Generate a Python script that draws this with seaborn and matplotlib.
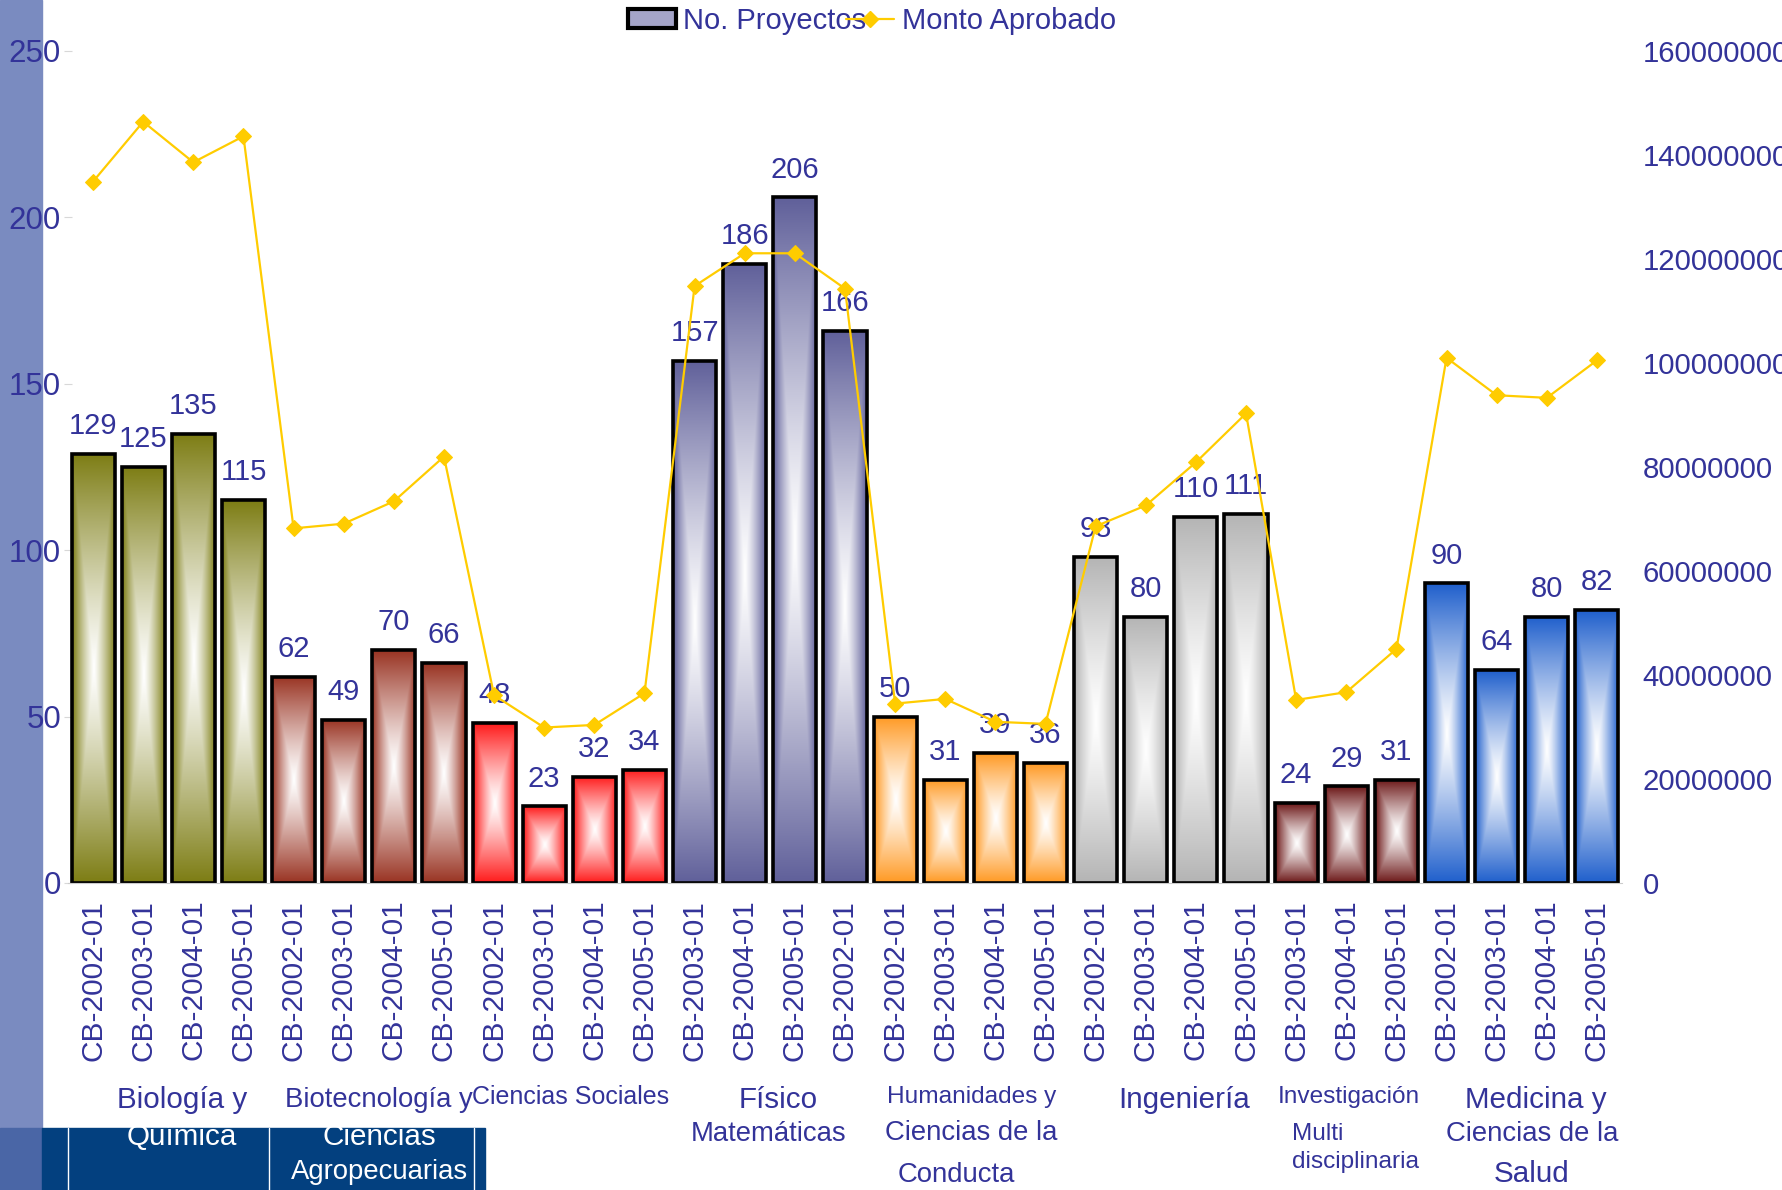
import numpy as np
import seaborn as sns
import matplotlib.pyplot as plt
from matplotlib.colors import to_rgb
from matplotlib.patches import Rectangle, Patch
from matplotlib.lines import Line2D
import matplotlib.transforms as mtransforms

# data
convocatorias = ['CB-2002-01', 'CB-2003-01', 'CB-2004-01', 'CB-2005-01',
                 'CB-2002-01', 'CB-2003-01', 'CB-2004-01', 'CB-2005-01',
                 'CB-2002-01', 'CB-2003-01', 'CB-2004-01', 'CB-2005-01',
                 'CB-2003-01', 'CB-2004-01', 'CB-2005-01', 'CB-2002-01',
                 'CB-2002-01', 'CB-2003-01', 'CB-2004-01', 'CB-2005-01',
                 'CB-2002-01', 'CB-2003-01', 'CB-2004-01', 'CB-2005-01',
                 'CB-2003-01', 'CB-2004-01', 'CB-2005-01',
                 'CB-2002-01', 'CB-2003-01', 'CB-2004-01', 'CB-2005-01']
proyectos = [129, 125, 135, 115,
             62, 49, 70, 66,
             48, 23, 32, 34,
             157, 186, 206, 166,
             50, 31, 39, 36,
             98, 80, 110, 111,
             24, 29, 31,
             90, 64, 80, 82]
monto = [134.9e6, 146.4e6, 138.6e6, 143.6e6,
         68.2e6, 69.1e6, 73.4e6, 82.0e6,
         36.1e6, 29.9e6, 30.4e6, 36.5e6,
         114.8e6, 121.1e6, 121.1e6, 114.3e6,
         34.5e6, 35.4e6, 31.0e6, 30.6e6,
         68.6e6, 72.6e6, 80.9e6, 90.3e6,
         35.2e6, 36.7e6, 45.0e6,
         101.0e6, 93.8e6, 93.3e6, 100.5e6]
group_sizes = [4, 4, 4, 4, 4, 4, 3, 4]
group_colors = ['#7d7d14', '#993322', '#ff1a1a', '#60609a',
                '#ff9922', '#b4b4b4', '#6b1616', '#1f5fcc']

idx = np.arange(len(proyectos))
bar_colors = [c for c, n in zip(group_colors, group_sizes) for _ in range(n)]

TXT = '#333399'
sns.set_style('white')
plt.rcParams['font.family'] = ['Liberation Sans', 'DejaVu Sans']

W, H = 1782, 1190
fig = plt.figure(figsize=(W / 100, H / 100), dpi=100)
ax = fig.add_axes([68 / W, 1 - 883 / H, (1622 - 68) / W, (883 - 51) / H])
ax.patch.set_alpha(0)

# slide decoration
fig.add_artist(Rectangle((0, 0), 42 / W, 1, transform=fig.transFigure,
                         color='#7a8bc0', zorder=-2))
fig.add_artist(Rectangle((0, 0), 42 / W, (H - 1128) / H, transform=fig.transFigure,
                         color='#4a66a6', zorder=-1))
fig.add_artist(Rectangle((42 / W, 0), (485 - 42) / W, (H - 1128) / H,
                         transform=fig.transFigure, color='#03407f', zorder=-1))
for xp in [68, 269, 474]:
    fig.add_artist(Line2D([xp / W, xp / W], [0, (H - 1128) / H], transform=fig.transFigure,
                          color='white', lw=1, zorder=-1))

sns.barplot(x=idx, y=proyectos, ax=ax, color='white', width=0.86, saturation=1,
            edgecolor='black', linewidth=2.6)


def gradient(color, nx=60, ny=300):
    rgb = np.array(to_rgb(color))
    X, Y = np.meshgrid(np.linspace(-1, 1, nx), np.linspace(-1, 1, ny))
    t = np.maximum(np.abs(X), np.abs(Y)) ** 1.2
    return (1 - t)[..., None] * np.ones(3) + t[..., None] * rgb


for bar, c in zip(ax.patches, bar_colors):
    x0, w, h = bar.get_x(), bar.get_width(), bar.get_height()
    im = ax.imshow(gradient(c), extent=(x0, x0 + w, 0, h), aspect='auto',
                   interpolation='bilinear', zorder=1.5)
    im.set_clip_path(bar)
    bar.set_facecolor('none')
    bar.set_zorder(2)

ax.bar_label(ax.containers[0], labels=[str(v) for v in proyectos], padding=10,
             color=TXT, fontsize=21)

ax.set_xlim(-0.5, len(proyectos) - 0.5)
ax.set_ylim(0, 250)
ax.set_yticks(range(0, 251, 50))
ax.set_xticks(idx)
ax.set_xticklabels(convocatorias, rotation=90, fontsize=21.5, color=TXT)
ax.tick_params(axis='y', labelsize=22.5, labelcolor=TXT, length=6, color='#d8d8d8',
               direction='inout', pad=2, left=True)
ax.tick_params(axis='x', length=0, pad=12)
ax.set_xlabel('')
ax.set_ylabel('')
for s in ['top', 'left', 'right']:
    ax.spines[s].set_visible(False)
ax.spines['bottom'].set_color('#cccccc')

ax2 = ax.twinx()
sns.lineplot(x=idx, y=monto, ax=ax2, color='#ffcc00', lw=1.6, marker='D',
             markersize=8, markeredgecolor='#ffcc00')
ax2.set_ylim(0, 160e6)
ticks2 = np.arange(0, 160e6 + 1, 20e6)
ax2.set_yticks(ticks2)
ax2.set_yticklabels([f'{int(v)}' for v in ticks2])
ax2.tick_params(axis='y', labelsize=21.2, labelcolor=TXT, length=0, pad=15, right=True)
ax2.set_ylabel('')
for s in ax2.spines.values():
    s.set_visible(False)

# area names under the tick labels
trans = mtransforms.blended_transform_factory(ax.transData, fig.transFigure)
group_lines = [
    ('Biología y', 1.77, 1100, 21.3, TXT, 'center'),
    ('Química', 1.77, 1137, 21.3, 'white', 'center'),
    ('Biotecnología y', 5.71, 1100, 19.8, TXT, 'center'),
    ('Ciencias', 5.71, 1137, 21.3, 'white', 'center'),
    ('Agropecuarias', 5.71, 1172, 19.8, 'white', 'center'),
    ('Ciencias Sociales', 9.52, 1097, 18, TXT, 'center'),
    ('Físico', 13.67, 1100, 21.3, TXT, 'center'),
    ('Matemáticas', 13.47, 1134, 19.8, TXT, 'center'),
    ('Humanidades y', 17.52, 1097, 17.6, TXT, 'center'),
    ('Ciencias de la', 17.52, 1133, 19.8, TXT, 'center'),
    ('Conducta', 17.23, 1175, 19.8, TXT, 'center'),
    ('Ingeniería', 21.76, 1100, 21.3, TXT, 'center'),
    ('Investigación', 25.05, 1097, 17.6, TXT, 'center'),
    ('Multi', 23.92, 1134, 17.6, TXT, 'left'),
    ('disciplinaria', 23.92, 1162, 17.6, TXT, 'left'),
    ('Medicina y', 28.79, 1100, 21.3, TXT, 'center'),
    ('Ciencias de la', 28.70, 1134, 19.8, TXT, 'center'),
    ('Salud', 28.70, 1174, 21.3, TXT, 'center'),
]
for txt, gx, gy, fs, col, ha in group_lines:
    ax.text(gx, 1 - gy / H, txt, transform=trans, ha=ha, va='center', fontsize=fs,
            color=col, clip_on=False)

handles = [Patch(facecolor='#a4a4c8', edgecolor='black', lw=3),
           Line2D([], [], color='#ffcc00', lw=1.6, marker='D', markersize=8)]
fig.legend(handles, ['No. Proyectos', 'Monto Aprobado'], loc='upper left',
           bbox_to_anchor=(628 / W, 1 - 7 / H), ncol=2, frameon=False,
           fontsize=21, labelcolor=TXT, handlelength=1.65, handleheight=0.6,
           handletextpad=0.25, columnspacing=-0.7, borderpad=0, borderaxespad=0)

fig.savefig('out.png', dpi=100)
